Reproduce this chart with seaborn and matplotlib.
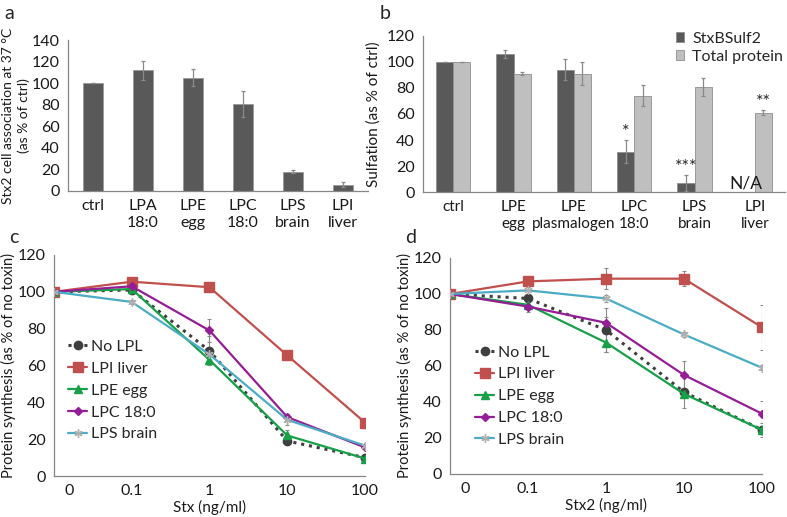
import numpy as np
import pandas as pd
import matplotlib.pyplot as plt
import seaborn as sns

sns.set_theme(style="white")
plt.rcParams["font.family"] = ["Lato", "DejaVu Sans"]
plt.rcParams.update({
    "font.size": 11,
    "axes.edgecolor": "#868686",
    "axes.linewidth": 0.9,
    "xtick.color": "#868686",
    "ytick.color": "#868686",
    "xtick.labelcolor": "#1a1a1a",
    "ytick.labelcolor": "#1a1a1a",
    "xtick.labelsize": 11.5,
    "ytick.labelsize": 11.5,
    "axes.labelsize": 11,
    "axes.labelcolor": "#1a1a1a",
})

# ---- data: panel a ----
a_cats = ["ctrl", "LPA\n18:0", "LPE\negg", "LPC\n18:0", "LPS\nbrain", "LPI\nliver"]
a_vals = [100, 112, 105, 81, 18, 6]
a_err = [0, 9, 8, 12, 1, 2.5]

# ---- data: panel b ----
b_cats = ["ctrl", "LPE\negg", "LPE\nplasmalogen", "LPC\n18:0", "LPS\nbrain", "LPI\nliver"]
b_sulf = [100, 106, 94, 31, 7, np.nan]
b_sulf_err = [0, 3, 8, 9, 6, 0]
b_prot = [100, 91, 91, 74, 81, 61]
b_prot_err = [0, 1, 9, 8, 7, 2]

# ---- data: panels c, d (dose 0 drawn at the axis origin 0.01 on log scale) ----
dose = [0.01, 0.1, 1, 10, 100]
dose_labels = ["0.1", "1", "10", "100"]
series = ["No LPL", "LPI liver", "LPE egg", "LPC 18:0", "LPS brain"]

c_vals = {
    "No LPL":    [100, 101, 68, 19, 10],
    "LPI liver": [100, 105.5, 102.5, 65.5, 29],
    "LPE egg":   [100, 101.5, 63, 22, 9.5],
    "LPC 18:0":  [100, 103, 79, 32, 15.5],
    "LPS brain": [100, 94.5, 66, 30.5, 16.5],
}
c_err = {
    "No LPL":    [1, 2, 8, 1.5, 1],
    "LPI liver": [1, 1, 1, 2, 1],
    "LPE egg":   [1, 1, 3, 3, 1],
    "LPC 18:0":  [1, 1, 6, 1.5, 1],
    "LPS brain": [1, 1, 1, 3, 1],
}
d_vals = {
    "No LPL":    [100, 97.5, 80, 45.5, 24.5],
    "LPI liver": [100, 107, 108.5, 108.5, 81.5],
    "LPE egg":   [100, 94, 73, 44.5, 24.5],
    "LPC 18:0":  [100, 93, 84, 55, 33.5],
    "LPS brain": [100, 102, 97.5, 77.5, 59],
}
d_err = {
    "No LPL":    [1, 2, 12, 9, 4],
    "LPI liver": [1, 3, 6, 4, 12.5],
    "LPE egg":   [1, 2, 5, 2, 2],
    "LPC 18:0":  [1, 3, 3, 8, 7],
    "LPS brain": [1, 3, 2, 1.5, 1.5],
}

styles = {
    "No LPL":    dict(color="#3f3f3f", marker="o", ls=(0, (1, 1.6)), lw=2.2, ms=6, mfc="#3f3f3f"),
    "LPI liver": dict(color="#c0504d", marker="s", ls="-", lw=1.6, ms=6.5, mfc="#c0504d"),
    "LPE egg":   dict(color="#17a048", marker="^", ls="-", lw=1.6, ms=5.5, mfc="#17a048"),
    "LPC 18:0":  dict(color="#951d95", marker="D", ls="-", lw=1.6, ms=4, mfc="#951d95"),
    "LPS brain": dict(color="#4bacc6", marker=(6, 2, 0), ls="-", lw=1.6, ms=6, mfc="#b0b0b0"),
}

DARK = "#595959"
LIGHT = "#bfbfbf"
ERR = "#8a8a8a"

fig = plt.figure(figsize=(7.87, 5.17), dpi=100)
ax_a = fig.add_axes([0.0864, 0.6306, 0.3812, 0.2920])
ax_b = fig.add_axes([0.5375, 0.6286, 0.4600, 0.3018])
ax_c = fig.add_axes([0.0686, 0.0793, 0.3952, 0.4275])
ax_d = fig.add_axes([0.5718, 0.0832, 0.3964, 0.4178])


def bar_axis_style(ax, n, size=11.5):
    sns.despine(ax=ax, top=True, right=True)
    ax.set_xlim(-0.5, n - 0.5)
    ax.tick_params(axis="x", which="major", length=0, pad=6, labelsize=size)
    ax.set_xticks(np.arange(-0.5, n, 1.0), minor=True)
    ax.tick_params(axis="x", which="minor", length=4, width=0.9, direction="out")
    ax.tick_params(axis="y", length=4, width=0.9, direction="out", pad=2)
    ax.set_xlabel("")
    for lab in ax.get_xticklabels():
        lab.set_linespacing(1.25)


# ---- panel a ----
df_a = pd.DataFrame({"cat": a_cats, "val": a_vals})
sns.barplot(data=df_a, x="cat", y="val", ax=ax_a, color=DARK, width=0.39,
            edgecolor="#9a9a9a", linewidth=0.6, errorbar=None, saturation=1)
ax_a.errorbar(np.arange(len(a_cats)), a_vals, yerr=a_err, fmt="none",
              ecolor=ERR, elinewidth=0.9, capsize=1.5, capthick=0.9)
ax_a.set_ylim(0, 140)
ax_a.set_yticks(range(0, 141, 20))
ax_a.set_ylabel("Stx2 cell association at 37 \u00b0C\n(as % of ctrl)", labelpad=1,
                linespacing=1.35, fontsize=10)
bar_axis_style(ax_a, len(a_cats))

# ---- panel b ----
df_b = pd.DataFrame({
    "cat": b_cats * 2,
    "val": b_sulf + b_prot,
    "kind": ["StxBSulf2"] * len(b_cats) + ["Total protein"] * len(b_cats),
})
sns.barplot(data=df_b, x="cat", y="val", hue="kind", ax=ax_b,
            palette=[DARK, LIGHT], width=0.57, edgecolor="#8f8f8f", linewidth=0.6,
            errorbar=None, saturation=1)
xb = np.arange(len(b_cats))
off = 0.57 / 4
ax_b.errorbar(xb - off, b_sulf, yerr=b_sulf_err, fmt="none",
              ecolor=ERR, elinewidth=0.9, capsize=1.5, capthick=0.9)
ax_b.errorbar(xb + off, b_prot, yerr=b_prot_err, fmt="none",
              ecolor=ERR, elinewidth=0.9, capsize=1.5, capthick=0.9)
ax_b.set_ylim(0, 120)
ax_b.set_yticks(range(0, 121, 20))
ax_b.set_ylabel("Sulfation (as % of ctrl)", labelpad=4)
bar_axis_style(ax_b, len(b_cats), size=11)
# significance marks
ax_b.text(3 - off, b_sulf[3] + b_sulf_err[3], "*", ha="center", va="bottom", fontsize=13)
ax_b.text(4 - off, b_sulf[4] + b_sulf_err[4], "***", ha="center", va="bottom", fontsize=13)
ax_b.text(5 + off, b_prot[5] + b_prot_err[5], "**", ha="center", va="bottom", fontsize=13)
ax_b.text(5 - off, 0.5, "N/A", ha="center", va="bottom", fontsize=12.5, color="#1a1a1a")
ax_b.legend(loc="upper right", bbox_to_anchor=(1.035, 1.12), frameon=False,
            handlelength=0.55, handleheight=0.55, handletextpad=0.5,
            labelspacing=0.25, fontsize=11.5)

# ---- panels c, d ----
def line_panel(ax, vals, errs, xlabel, leg_anchor):
    for name in series:
        st = styles[name]
        sns.lineplot(x=dose, y=vals[name], ax=ax, color=st["color"], marker=st["marker"],
                     linestyle=st["ls"], linewidth=st["lw"], markersize=st["ms"],
                     markerfacecolor=st["mfc"], markeredgecolor=st["mfc"],
                     markeredgewidth=1.0, label=name, zorder=3)
        ax.errorbar(dose, vals[name], yerr=errs[name], fmt="none", ecolor=ERR,
                    elinewidth=0.8, capsize=1.5, capthick=0.8, zorder=2)
    ax.set_xscale("log")
    ax.set_xlim(0.01, 100)
    ax.set_ylim(0, 120)
    ax.set_yticks(range(0, 121, 20))
    ax.set_xticks([0.01, 0.1, 1, 10, 100], [""] + dose_labels)
    ax.set_xticks([0.0155], ["0"], minor=True)
    ax.tick_params(axis="x", which="major", length=4, width=0.9, direction="out", pad=2)
    ax.tick_params(axis="x", which="minor", length=0, pad=6)
    ax.tick_params(axis="y", length=4, width=0.9, direction="out", pad=2)
    sns.despine(ax=ax, top=True, right=True)
    ax.set_xlabel(xlabel, labelpad=1)
    ax.set_ylabel("Protein synthesis (as % of no toxin)", labelpad=1, fontsize=10.5)
    ax.legend(loc="upper left", bbox_to_anchor=leg_anchor, frameon=False,
              handlelength=1.2, handletextpad=0.25, labelspacing=0.48, fontsize=11.5,
              borderaxespad=0)


line_panel(ax_c, c_vals, c_err, "Stx (ng/ml)", (0.025, 0.645))
line_panel(ax_d, d_vals, d_err, "Stx2 (ng/ml)", (0.06, 0.625))

# panel letters
fig.text(0.006, 0.99, "a", fontsize=14, va="top")
fig.text(0.482, 0.99, "b", fontsize=14, va="top")
fig.text(0.012, 0.558, "c", fontsize=14, va="top")
fig.text(0.515, 0.558, "d", fontsize=14, va="top")

fig.savefig("out.png", dpi=100)
